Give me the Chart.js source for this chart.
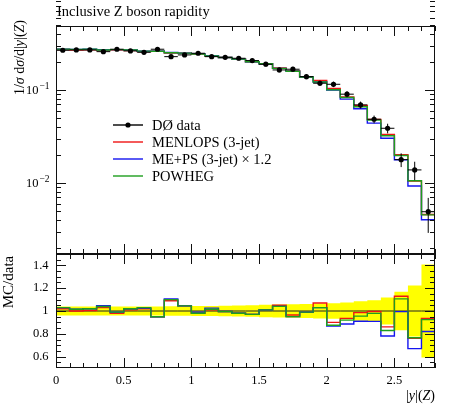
<!DOCTYPE html>
<html>
<head>
<meta charset="utf-8">
<title>Inclusive Z boson rapidity</title>
<script src="https://cdn.jsdelivr.net/npm/chart.js@4.4.0/dist/chart.umd.min.js"></script>
<style>
  body { margin: 0; background: #fff; }
  #wrap { position: relative; width: 450px; height: 406px; }
  #wrap canvas { position: absolute; left: 0; top: 0; }
</style>
</head>
<body>
<div id="wrap">
  <canvas id="mainChart" width="450" height="406"></canvas>
  <canvas id="ratioChart" width="450" height="406"></canvas>
</div>
<script>
"use strict";

// bins in |y|(Z)
var binEdges = [0, 0.1, 0.2, 0.3, 0.4, 0.5, 0.6, 0.7, 0.8, 0.9, 1.0, 1.1, 1.2, 1.3, 1.4,
                1.5, 1.6, 1.7, 1.8, 1.9, 2.0, 2.1, 2.2, 2.3, 2.4, 2.5, 2.6, 2.7, 2.8];

// D0 data, 1/sigma dsigma/d|y|
var dataVals = [0.267, 0.269, 0.269, 0.258, 0.274, 0.263, 0.254, 0.274, 0.228, 0.238,
                0.248, 0.228, 0.224, 0.219, 0.207, 0.189, 0.164, 0.167, 0.139, 0.118,
                0.115, 0.090, 0.069, 0.0484, 0.0387, 0.0178, 0.0138, 0.0049];
var dataErr  = [0.0107, 0.0108, 0.0108, 0.0103, 0.0110, 0.0105, 0.0102, 0.0110, 0.0096, 0.0100,
                0.0107, 0.0098, 0.0101, 0.0105, 0.0104, 0.0104, 0.0095, 0.0100, 0.0086, 0.0077,
                0.0078, 0.0068, 0.0059, 0.0046, 0.0046, 0.0030, 0.0031, 0.0020];

// MC predictions
var menlops = [0.2723, 0.2690, 0.2703, 0.2657, 0.2685, 0.2656, 0.2591, 0.2603, 0.2485, 0.2487,
               0.2430, 0.2303, 0.2229, 0.2146, 0.2008, 0.1909, 0.1722, 0.1612, 0.1376, 0.1263,
               0.1035, 0.0842, 0.0680, 0.0482, 0.0333, 0.0201, 0.01049, 0.00458];
var meps    = [0.2750, 0.2730, 0.2744, 0.2701, 0.2713, 0.2683, 0.2604, 0.2603, 0.2522, 0.2487,
               0.2455, 0.2337, 0.2229, 0.2146, 0.2008, 0.1909, 0.1706, 0.1587, 0.1376, 0.1215,
               0.0997, 0.0797, 0.0628, 0.0440, 0.0302, 0.0177, 0.00925, 0.00402];
var powheg  = [0.2750, 0.2730, 0.2744, 0.2683, 0.2713, 0.2683, 0.2616, 0.2603, 0.2508, 0.2487,
               0.2430, 0.2314, 0.2229, 0.2146, 0.2008, 0.1909, 0.1706, 0.1587, 0.1376, 0.1215,
               0.1006, 0.0828, 0.0659, 0.0474, 0.0321, 0.0197, 0.01056, 0.00453];

// tick labels
var xTicks = [0, 0.5, 1, 1.5, 2, 2.5];
var ratioTicks = [0.6, 0.8, 1, 1.2, 1.4];
var logTicks = [0.1, 0.01];

var SERIF = '"Liberation Serif", "DejaVu Serif", serif';

function steps(vals) {
    var pts = vals.map(function(v, i){ return {x: binEdges[i], y: v}; });
    pts.push({x: binEdges[binEdges.length - 1], y: vals[vals.length - 1]});
    return pts;
}
function ratioOf(vals) {
    return vals.map(function(v, i){ return v / dataVals[i]; });
}

// text made of plain / italic pieces
function drawRuns(ctx, runs, x, y, size, align) {
    var total = 0;
    runs.forEach(function(r){
        ctx.font = (r[1] ? 'italic ' : '') + size + 'px ' + SERIF;
        total += ctx.measureText(r[0]).width;
    });
    var cx = align === 'right' ? x - total : (align === 'center' ? x - total / 2 : x);
    ctx.textAlign = 'left';
    runs.forEach(function(r){
        ctx.font = (r[1] ? 'italic ' : '') + size + 'px ' + SERIF;
        ctx.fillText(r[0], cx, y);
        cx += ctx.measureText(r[0]).width;
    });
}

// frame with inward ticks on all four sides
var inTicks = {
    id: 'inTicks',
    afterDraw: function(chart, args, opts) {
        var ctx = chart.ctx, a = chart.chartArea;
        var sx = chart.scales.x, sy = chart.scales.y;
        ctx.save();
        ctx.strokeStyle = '#111';
        ctx.lineWidth = 1;
        ctx.beginPath();
        function xt(v, len) {
            var p = Math.round(sx.getPixelForValue(v)) + 0.5;
            ctx.moveTo(p, a.top); ctx.lineTo(p, a.top + len);
            ctx.moveTo(p, a.bottom); ctx.lineTo(p, a.bottom - len);
        }
        function yt(v, len) {
            var p = Math.round(sy.getPixelForValue(v)) + 0.5;
            ctx.moveTo(a.left, p); ctx.lineTo(a.left + len, p);
            ctx.moveTo(a.right, p); ctx.lineTo(a.right - len, p);
        }
        binEdges.forEach(function(v){ xt(v, 5); });
        xTicks.forEach(function(v){ xt(v, 10); });
        opts.yMinor.forEach(function(v){ yt(v, 5); });
        opts.yMajor.forEach(function(v){ yt(v, 10); });
        ctx.stroke();
        ctx.strokeRect(a.left + 0.5, a.top + 0.5, a.right - a.left - 1, a.bottom - a.top - 1);
        ctx.restore();
    }
};

// main panel extras: error bars, legend, title, axis labels
var mainExtras = {
    id: 'mainExtras',
    afterDatasetsDraw: function(chart) {
        var ctx = chart.ctx, a = chart.chartArea;
        var sx = chart.scales.x, sy = chart.scales.y;
        ctx.save();
        ctx.beginPath();
        ctx.rect(a.left, a.top, a.right - a.left, a.bottom - a.top);
        ctx.clip();
        ctx.strokeStyle = '#000';
        ctx.lineWidth = 1;
        ctx.beginPath();
        dataVals.forEach(function(v, i){
            var x0 = sx.getPixelForValue(binEdges[i]);
            var x1 = sx.getPixelForValue(binEdges[i + 1]);
            var xc = sx.getPixelForValue((binEdges[i] + binEdges[i + 1]) / 2);
            var y = sy.getPixelForValue(v);
            ctx.moveTo(x0, y); ctx.lineTo(x1, y);
            ctx.moveTo(xc, sy.getPixelForValue(v + dataErr[i]));
            ctx.lineTo(xc, sy.getPixelForValue(v - dataErr[i]));
        });
        ctx.stroke();
        ctx.restore();
    },
    afterDraw: function(chart) {
        var ctx = chart.ctx, a = chart.chartArea, sy = chart.scales.y;
        ctx.save();
        ctx.fillStyle = '#000';

        // title
        ctx.textBaseline = 'alphabetic';
        ctx.textAlign = 'left';
        ctx.font = '14.5px ' + SERIF;
        ctx.fillText('Inclusive Z boson rapidity', 57, 16);

        // log tick labels 10^-n
        logTicks.forEach(function(v){
            var y = sy.getPixelForValue(v);
            var exp = String(Math.round(Math.log10(v))).replace('-', '\u2212');
            ctx.textAlign = 'right';
            ctx.textBaseline = 'middle';
            ctx.font = '9.5px ' + SERIF;
            var ew = ctx.measureText(exp).width;
            ctx.fillText(exp, 49.5, y - 3.5);
            ctx.font = '12.5px ' + SERIF;
            ctx.fillText('10', 49.5 - ew - 1, y + 0.5);
        });

        // y title
        ctx.save();
        ctx.translate(20, 20);
        ctx.rotate(-Math.PI / 2);
        ctx.textBaseline = 'middle';
        drawRuns(ctx, [['1/', false], ['\u03c3', true], [' d', false], ['\u03c3', true],
                       ['/d|', false], ['y', true], ['|(', false], ['Z', true], [')', false]],
                 0, 0, 14, 'right');
        ctx.restore();

        // legend
        var lx0 = a.left + 57, lx1 = a.left + 87, tx = a.left + 96;
        var rows = [
            {label: chart.data.datasets[0].label, color: '#000', dot: true},
            {label: chart.data.datasets[1].label, color: chart.data.datasets[1].borderColor},
            {label: chart.data.datasets[2].label, color: chart.data.datasets[2].borderColor},
            {label: chart.data.datasets[3].label, color: chart.data.datasets[3].borderColor}
        ];
        rows.forEach(function(r, i){
            var y = a.top + 99 + i * 17;
            ctx.strokeStyle = r.color;
            ctx.lineWidth = 1.4;
            ctx.beginPath();
            ctx.moveTo(lx0, y); ctx.lineTo(lx1, y);
            ctx.stroke();
            if (r.dot) {
                ctx.beginPath();
                ctx.arc((lx0 + lx1) / 2, y, 2.6, 0, Math.PI * 2);
                ctx.fill();
            }
            ctx.textAlign = 'left';
            ctx.textBaseline = 'middle';
            ctx.font = '14.5px ' + SERIF;
            ctx.fillText(r.label, tx, y + 1);
        });
        ctx.restore();
    }
};

var ratioExtras = {
    id: 'ratioExtras',
    afterDraw: function(chart) {
        var ctx = chart.ctx, a = chart.chartArea;
        ctx.save();
        ctx.fillStyle = '#000';
        ctx.textBaseline = 'middle';
        ctx.save();
        ctx.translate(9.5, 282);
        ctx.rotate(-Math.PI / 2);
        drawRuns(ctx, [['MC/data', false]], 0, 0, 15, 'center');
        ctx.restore();
        drawRuns(ctx, [['|', false], ['y', true], ['|(', false], ['Z', true], [')', false]],
                 a.right, 396, 14, 'right');
        ctx.restore();
    }
};

var logMajor = [0.01, 0.1];
var logMinor = [];
[0.001, 0.01, 0.1].forEach(function(d){
    for (var k = 2; k <= 9; k++) logMinor.push(d * k);
});
var ratioMinor = [];
for (var r = 0.55; r < 1.5; r += 0.05) ratioMinor.push(r);

var red = '#f01414', blue = '#1414f0', green = '#1e9e1e';

var mainCtx = document.getElementById('mainChart').getContext('2d');
window.mainChart = new Chart(mainCtx, {
    type: 'line',
    data: {
        datasets: [
            {
                label: 'D\u00d8 data',
                data: dataVals.map(function(v, i){ return {x: (binEdges[i] + binEdges[i + 1]) / 2, y: v}; }),
                showLine: false,
                pointRadius: 2.6,
                pointBackgroundColor: '#000',
                pointBorderWidth: 0,
                order: 0
            },
            { label: 'MENLOPS (3-jet)', data: steps(menlops), borderColor: red, order: 3 },
            { label: 'ME+PS (3-jet) \u00d7 1.2', data: steps(meps), borderColor: blue, order: 2 },
            { label: 'POWHEG', data: steps(powheg), borderColor: green, order: 1 }
        ]
    },
    options: {
        responsive: false,
        animation: false,
        events: [],
        datasets: {
            line: { stepped: 'before', pointRadius: 0, borderWidth: 1.4, fill: false }
        },
        layout: { padding: { top: 26, left: 0, right: 15, bottom: 152 } },
        scales: {
            x: { type: 'linear', min: 0, max: 2.8, display: false },
            y: {
                type: 'logarithmic', min: 0.00172, max: 0.487,
                grid: { display: false, drawTicks: false },
                border: { display: false },
                ticks: { display: false },
                afterFit: function(s){ s.width = 56; s.paddingTop = 0; s.paddingBottom = 0; }
            }
        },
        plugins: {
            legend: { display: false },
            tooltip: { enabled: false },
            inTicks: { yMajor: logMajor, yMinor: logMinor }
        }
    },
    plugins: [inTicks, mainExtras]
});

var ratioCtx = document.getElementById('ratioChart').getContext('2d');
var bandHi = dataVals.map(function(v, i){ return 1 + dataErr[i] / v; });
var bandLo = dataVals.map(function(v, i){ return 1 - dataErr[i] / v; });
window.ratioChart = new Chart(ratioCtx, {
    type: 'line',
    data: {
        datasets: [
            { label: 'band hi', data: steps(bandHi), borderWidth: 0, borderColor: 'rgba(0,0,0,0)',
              backgroundColor: '#ffff00', fill: '+1', order: 10 },
            { label: 'band lo', data: steps(bandLo), borderWidth: 0, borderColor: 'rgba(0,0,0,0)',
              fill: false, order: 9 },
            { label: 'data', data: steps(dataVals.map(function(){ return 1; })), borderColor: '#222',
              borderWidth: 1, order: 8 },
            { label: 'MENLOPS (3-jet)', data: steps(ratioOf(menlops)), borderColor: red, order: 3 },
            { label: 'ME+PS (3-jet) \u00d7 1.2', data: steps(ratioOf(meps)), borderColor: blue, order: 2 },
            { label: 'POWHEG', data: steps(ratioOf(powheg)), borderColor: green, order: 1 }
        ]
    },
    options: {
        responsive: false,
        animation: false,
        events: [],
        datasets: {
            line: { stepped: 'before', pointRadius: 0, borderWidth: 1.4 }
        },
        layout: { padding: { top: 254, left: 0, right: 15, bottom: 0 } },
        scales: {
            x: {
                type: 'linear', min: 0, max: 2.8,
                grid: { display: false, drawTicks: false },
                border: { display: false },
                afterBuildTicks: function(s){ s.ticks = xTicks.map(function(v){ return {value: v}; }); },
                ticks: {
                    color: '#000', padding: 5, maxRotation: 0,
                    font: { family: SERIF, size: 12.5 },
                    callback: function(v){ return String(v); }
                },
                afterFit: function(s){ s.height = 38; s.paddingLeft = 0; s.paddingRight = 0; }
            },
            y: {
                type: 'linear', min: 0.5, max: 1.5,
                grid: { display: false, drawTicks: false },
                border: { display: false },
                afterBuildTicks: function(s){ s.ticks = ratioTicks.map(function(v){ return {value: v}; }); },
                ticks: {
                    color: '#000', padding: 7.5,
                    font: { family: SERIF, size: 12.5 },
                    callback: function(v){ return String(Number(v.toFixed(1))); }
                },
                afterFit: function(s){ s.width = 56; s.paddingTop = 0; s.paddingBottom = 0; }
            }
        },
        plugins: {
            legend: { display: false },
            tooltip: { enabled: false },
            inTicks: { yMajor: ratioTicks, yMinor: ratioMinor }
        }
    },
    plugins: [inTicks, ratioExtras]
});
</script>
</body>
</html>
